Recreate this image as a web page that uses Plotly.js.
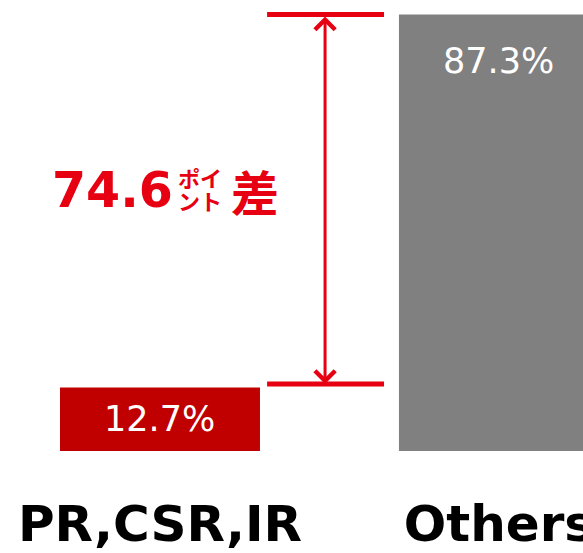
<!DOCTYPE html>
<html>
<head>
<meta charset="utf-8">
<script src="https://cdn.plot.ly/plotly-3.0.1.min.js"></script>
<style>html,body{margin:0;padding:0;background:#fff;}#chart{width:583px;height:553px;}</style>
</head>
<body>
<div id="chart"></div>
<script>
const categories = ["PR,CSR,IR", "Others"];
const values = [12.7, 87.3];
const labels = ["12.7%", "87.3%"];
const barColors = ["#c00000", "#808080"];
const diffText = "74.6";
const RED = "#e60012";

const W = 583, H = 553, PB = 102;
const PH = H - PB;
const px = v => v / W;
const py = v => 1 - v / PH;

const trace = {
  type: "bar",
  x: [0, 1],
  y: values,
  width: 0.59,
  marker: {color: barColors},
  hoverinfo: "none"
};

const annotations = [
  {x: 0, y: values[0] / 2, xref: "x", yref: "y", text: labels[0], showarrow: false,
   font: {family: "DejaVu Sans", size: 35, color: "#ffffff"}, xanchor: "center", yanchor: "middle"},
  {x: 1, y: values[1], xref: "x", yref: "y", text: labels[1], showarrow: false, yshift: -46,
   font: {family: "DejaVu Sans", size: 35, color: "#ffffff"}, xanchor: "center", yanchor: "middle"},
  {x: 0.487, y: values[1], ax: 0.487, ay: values[0], xref: "x", yref: "y", axref: "x", ayref: "y",
   text: "", showarrow: true, arrowside: "end+start", arrowhead: 4, startarrowhead: 4,
   arrowwidth: 3, arrowsize: 1.3, startarrowsize: 1.3, arrowcolor: RED, standoff: 2, startstandoff: 2},
  {x: px(50), y: py(190), xref: "paper", yref: "paper", text: diffText, showarrow: false,
   font: {family: "DejaVu Sans", size: 49, color: RED, weight: "bold"}, xanchor: "left", yanchor: "middle"},
  {x: px(200), y: py(177), xref: "paper", yref: "paper", text: "ポイ", showarrow: false,
   font: {family: "Noto Sans CJK JP", size: 22, color: RED, weight: "bold"}, xanchor: "center", yanchor: "middle"},
  {x: px(200), y: py(200), xref: "paper", yref: "paper", text: "ント", showarrow: false,
   font: {family: "Noto Sans CJK JP", size: 22, color: RED, weight: "bold"}, xanchor: "center", yanchor: "middle"},
  {x: px(255), y: py(190), xref: "paper", yref: "paper", text: "差", showarrow: false,
   font: {family: "Noto Sans CJK JP", size: 48, color: RED, weight: "bold"}, xanchor: "center", yanchor: "middle"}
];

const shapes = [
  {type: "line", xref: "x", yref: "y", x0: 0.316, x1: 0.661, y0: values[1], y1: values[1],
   line: {color: RED, width: 5}},
  {type: "line", xref: "x", yref: "y", x0: 0.316, x1: 0.661, ysizemode: "pixel", yanchor: values[0], y0: 3.5, y1: 3.5,
   line: {color: RED, width: 5}}
];

const layout = {
  width: W, height: H,
  margin: {l: 0, r: 0, t: 0, b: PB, pad: 0},
  paper_bgcolor: "#ffffff", plot_bgcolor: "#ffffff",
  showlegend: false,
  xaxis: {
    range: [-0.472, 1.248], tickvals: [0, 1], ticktext: categories,
    showgrid: false, zeroline: false, showline: false, ticks: "",
    ticklabeloverflow: "allow", ticklabelstandoff: 39,
    tickfont: {family: "DejaVu Sans", size: 50, color: "#000000", weight: "bold"},
    fixedrange: true
  },
  yaxis: {range: [0, 90.2], visible: false, showgrid: false, zeroline: false, fixedrange: true},
  annotations: annotations,
  shapes: shapes
};

Plotly.newPlot("chart", [trace], layout, {displayModeBar: false, staticPlot: true});
</script>
</body>
</html>
